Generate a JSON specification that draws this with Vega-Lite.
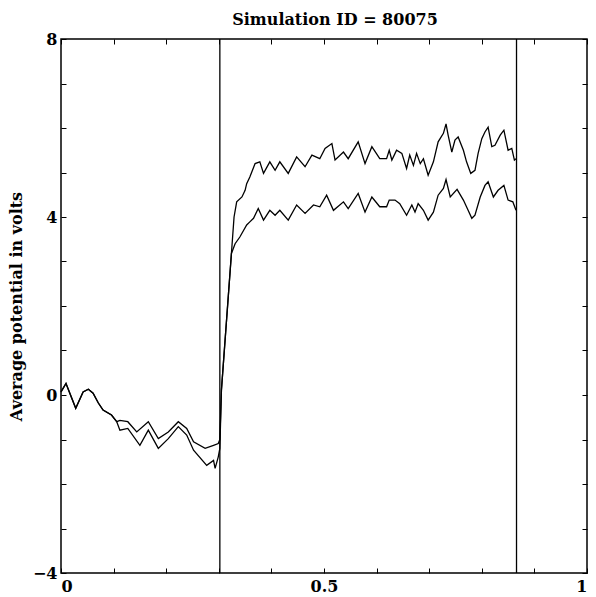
{
  "$schema": "https://vega.github.io/schema/vega-lite/v6.json",
  "width": 526,
  "height": 534,
  "autosize": "none",
  "padding": {"left": 61, "top": 39, "right": 9, "bottom": 24},
  "background": "white",
  "config": {
    "view": {"stroke": "black", "strokeWidth": 1.5},
    "font": "DejaVu Serif",
    "axis": {
      "domain": false,
      "grid": false,
      "tickColor": "black",
      "tickSize": -5,
      "tickWidth": 1,
      "labelColor": "black",
      "labelFont": "DejaVu Serif",
      "labelFontWeight": "bold",
      "labelFontSize": 16,
      "titleColor": "black",
      "titleFont": "DejaVu Serif",
      "titleFontWeight": "bold",
      "titleFontSize": 16
    }
  },
  "title": {
    "text": "Simulation ID = 80075",
    "font": "DejaVu Serif",
    "fontSize": 16,
    "fontWeight": "bold",
    "color": "black",
    "offset": 3,
    "dx": 11
  },
  "datasets": {
    "traces": [
      {"s": "a", "x": 0.000, "v": 0.07}, {"s": "b", "x": 0.000, "v": 0.07},
      {"s": "a", "x": 0.0095, "v": 0.26}, {"s": "b", "x": 0.0095, "v": 0.26},
      {"s": "a", "x": 0.028, "v": -0.30}, {"s": "b", "x": 0.028, "v": -0.30},
      {"s": "a", "x": 0.042, "v": 0.07}, {"s": "b", "x": 0.042, "v": 0.07},
      {"s": "a", "x": 0.052, "v": 0.13}, {"s": "b", "x": 0.052, "v": 0.13},
      {"s": "a", "x": 0.061, "v": 0.04}, {"s": "b", "x": 0.061, "v": 0.04},
      {"s": "a", "x": 0.071, "v": -0.18}, {"s": "b", "x": 0.071, "v": -0.18},
      {"s": "a", "x": 0.080, "v": -0.34}, {"s": "b", "x": 0.080, "v": -0.34},
      {"s": "a", "x": 0.096, "v": -0.45}, {"s": "b", "x": 0.096, "v": -0.45},
      {"s": "a", "x": 0.106, "v": -0.60}, {"s": "b", "x": 0.106, "v": -0.60},

      {"s": "a", "x": 0.112, "v": -0.57},
      {"s": "a", "x": 0.127, "v": -0.60},
      {"s": "a", "x": 0.144, "v": -0.83},
      {"s": "a", "x": 0.166, "v": -0.60},
      {"s": "a", "x": 0.185, "v": -0.98},
      {"s": "a", "x": 0.204, "v": -0.83},
      {"s": "a", "x": 0.223, "v": -0.60},
      {"s": "a", "x": 0.239, "v": -0.75},
      {"s": "a", "x": 0.252, "v": -1.05},
      {"s": "a", "x": 0.274, "v": -1.20},
      {"s": "a", "x": 0.290, "v": -1.13},
      {"s": "a", "x": 0.299, "v": -1.09},
      {"s": "a", "x": 0.302, "v": -1.00},
      {"s": "a", "x": 0.305, "v": 0.11},
      {"s": "a", "x": 0.324, "v": 3.18},
      {"s": "a", "x": 0.329, "v": 4.00},
      {"s": "a", "x": 0.334, "v": 4.34},
      {"s": "a", "x": 0.344, "v": 4.45},
      {"s": "a", "x": 0.350, "v": 4.60},
      {"s": "a", "x": 0.353, "v": 4.75},
      {"s": "a", "x": 0.359, "v": 4.90},
      {"s": "a", "x": 0.369, "v": 5.20},
      {"s": "a", "x": 0.378, "v": 5.24},
      {"s": "a", "x": 0.385, "v": 4.98},
      {"s": "a", "x": 0.397, "v": 5.24},
      {"s": "a", "x": 0.407, "v": 5.05},
      {"s": "a", "x": 0.416, "v": 5.24},
      {"s": "a", "x": 0.432, "v": 4.98},
      {"s": "a", "x": 0.448, "v": 5.35},
      {"s": "a", "x": 0.464, "v": 5.13},
      {"s": "a", "x": 0.477, "v": 5.39},
      {"s": "a", "x": 0.492, "v": 5.31},
      {"s": "a", "x": 0.502, "v": 5.54},
      {"s": "a", "x": 0.515, "v": 5.65},
      {"s": "a", "x": 0.521, "v": 5.28},
      {"s": "a", "x": 0.537, "v": 5.46},
      {"s": "a", "x": 0.546, "v": 5.31},
      {"s": "a", "x": 0.565, "v": 5.69},
      {"s": "a", "x": 0.578, "v": 5.20},
      {"s": "a", "x": 0.591, "v": 5.58},
      {"s": "a", "x": 0.606, "v": 5.31},
      {"s": "a", "x": 0.619, "v": 5.31},
      {"s": "a", "x": 0.624, "v": 5.50},
      {"s": "a", "x": 0.629, "v": 5.28},
      {"s": "a", "x": 0.638, "v": 5.50},
      {"s": "a", "x": 0.648, "v": 5.43},
      {"s": "a", "x": 0.657, "v": 5.09},
      {"s": "a", "x": 0.663, "v": 5.39},
      {"s": "a", "x": 0.670, "v": 5.16},
      {"s": "a", "x": 0.676, "v": 5.43},
      {"s": "a", "x": 0.683, "v": 5.20},
      {"s": "a", "x": 0.689, "v": 5.31},
      {"s": "a", "x": 0.698, "v": 4.94},
      {"s": "a", "x": 0.708, "v": 5.24},
      {"s": "a", "x": 0.717, "v": 5.69},
      {"s": "a", "x": 0.727, "v": 5.88},
      {"s": "a", "x": 0.732, "v": 6.09},
      {"s": "a", "x": 0.736, "v": 5.84},
      {"s": "a", "x": 0.743, "v": 5.46},
      {"s": "a", "x": 0.749, "v": 5.73},
      {"s": "a", "x": 0.755, "v": 5.80},
      {"s": "a", "x": 0.765, "v": 5.50},
      {"s": "a", "x": 0.771, "v": 5.24},
      {"s": "a", "x": 0.779, "v": 4.98},
      {"s": "a", "x": 0.787, "v": 5.05},
      {"s": "a", "x": 0.793, "v": 5.43},
      {"s": "a", "x": 0.800, "v": 5.76},
      {"s": "a", "x": 0.806, "v": 5.91},
      {"s": "a", "x": 0.812, "v": 6.02},
      {"s": "a", "x": 0.819, "v": 5.58},
      {"s": "a", "x": 0.825, "v": 5.61},
      {"s": "a", "x": 0.835, "v": 5.84},
      {"s": "a", "x": 0.842, "v": 5.95},
      {"s": "a", "x": 0.850, "v": 5.50},
      {"s": "a", "x": 0.857, "v": 5.54},
      {"s": "a", "x": 0.862, "v": 5.28},
      {"s": "a", "x": 0.865, "v": 5.31},

      {"s": "b", "x": 0.112, "v": -0.79},
      {"s": "b", "x": 0.127, "v": -0.75},
      {"s": "b", "x": 0.150, "v": -1.13},
      {"s": "b", "x": 0.166, "v": -0.79},
      {"s": "b", "x": 0.185, "v": -1.20},
      {"s": "b", "x": 0.204, "v": -0.98},
      {"s": "b", "x": 0.223, "v": -0.71},
      {"s": "b", "x": 0.239, "v": -0.90},
      {"s": "b", "x": 0.252, "v": -1.24},
      {"s": "b", "x": 0.277, "v": -1.58},
      {"s": "b", "x": 0.290, "v": -1.47},
      {"s": "b", "x": 0.293, "v": -1.65},
      {"s": "b", "x": 0.299, "v": -1.39},
      {"s": "b", "x": 0.302, "v": -1.20},
      {"s": "b", "x": 0.305, "v": 0.11},
      {"s": "b", "x": 0.324, "v": 3.18},
      {"s": "b", "x": 0.331, "v": 3.40},
      {"s": "b", "x": 0.340, "v": 3.55},
      {"s": "b", "x": 0.353, "v": 3.82},
      {"s": "b", "x": 0.359, "v": 3.89},
      {"s": "b", "x": 0.366, "v": 3.97},
      {"s": "b", "x": 0.375, "v": 4.19},
      {"s": "b", "x": 0.385, "v": 3.93},
      {"s": "b", "x": 0.397, "v": 4.15},
      {"s": "b", "x": 0.407, "v": 4.04},
      {"s": "b", "x": 0.416, "v": 4.15},
      {"s": "b", "x": 0.432, "v": 3.93},
      {"s": "b", "x": 0.448, "v": 4.27},
      {"s": "b", "x": 0.464, "v": 4.08},
      {"s": "b", "x": 0.480, "v": 4.27},
      {"s": "b", "x": 0.492, "v": 4.23},
      {"s": "b", "x": 0.505, "v": 4.49},
      {"s": "b", "x": 0.518, "v": 4.15},
      {"s": "b", "x": 0.537, "v": 4.34},
      {"s": "b", "x": 0.546, "v": 4.19},
      {"s": "b", "x": 0.565, "v": 4.53},
      {"s": "b", "x": 0.578, "v": 4.11},
      {"s": "b", "x": 0.591, "v": 4.45},
      {"s": "b", "x": 0.606, "v": 4.23},
      {"s": "b", "x": 0.619, "v": 4.23},
      {"s": "b", "x": 0.624, "v": 4.38},
      {"s": "b", "x": 0.635, "v": 4.38},
      {"s": "b", "x": 0.644, "v": 4.30},
      {"s": "b", "x": 0.657, "v": 4.04},
      {"s": "b", "x": 0.667, "v": 4.27},
      {"s": "b", "x": 0.673, "v": 4.11},
      {"s": "b", "x": 0.679, "v": 4.30},
      {"s": "b", "x": 0.689, "v": 4.15},
      {"s": "b", "x": 0.698, "v": 3.93},
      {"s": "b", "x": 0.708, "v": 4.11},
      {"s": "b", "x": 0.717, "v": 4.49},
      {"s": "b", "x": 0.727, "v": 4.64},
      {"s": "b", "x": 0.732, "v": 4.84},
      {"s": "b", "x": 0.740, "v": 4.45},
      {"s": "b", "x": 0.753, "v": 4.62},
      {"s": "b", "x": 0.765, "v": 4.38},
      {"s": "b", "x": 0.774, "v": 4.15},
      {"s": "b", "x": 0.781, "v": 3.97},
      {"s": "b", "x": 0.787, "v": 4.04},
      {"s": "b", "x": 0.797, "v": 4.45},
      {"s": "b", "x": 0.806, "v": 4.71},
      {"s": "b", "x": 0.812, "v": 4.79},
      {"s": "b", "x": 0.822, "v": 4.45},
      {"s": "b", "x": 0.831, "v": 4.60},
      {"s": "b", "x": 0.842, "v": 4.71},
      {"s": "b", "x": 0.850, "v": 4.38},
      {"s": "b", "x": 0.859, "v": 4.34},
      {"s": "b", "x": 0.865, "v": 4.15}
    ],
    "markers": [{"x": 0.302}, {"x": 0.866}]
  },
  "layer": [
    {
      "data": {"name": "traces"},
      "mark": {"type": "line", "color": "black", "strokeWidth": 1.3},
      "encoding": {
        "x": {
          "field": "x", "type": "quantitative",
          "scale": {"domain": [0, 1], "nice": false, "zero": false},
          "axis": {
            "orient": "bottom", "title": null,
            "values": [0, 0.1, 0.2, 0.3, 0.4, 0.5, 0.6, 0.7, 0.8, 0.9, 1],
            "format": "~g",
            "labelExpr": "datum.value == 0 || datum.value == 0.5 || datum.value == 1 ? datum.label : ''",
            "labelFlush": true,
            "labelPadding": 10
          }
        },
        "y": {
          "field": "v", "type": "quantitative",
          "scale": {"domain": [-4, 8], "nice": false, "zero": false},
          "axis": {
            "orient": "left",
            "title": "Average potential in volts",
            "values": [-4, -3, -2, -1, 0, 1, 2, 3, 4, 5, 6, 7, 8],
            "labelExpr": "datum.value % 4 == 0 ? datum.label : ''",
            "labelFlush": false,
            "labelPadding": 9,
            "titlePadding": 8
          }
        },
        "detail": {"field": "s"}
      }
    },
    {
      "data": {"name": "markers"},
      "mark": {"type": "rule", "color": "black", "strokeWidth": 1.3},
      "encoding": {
        "x": {
          "field": "x", "type": "quantitative",
          "axis": {
            "orient": "top", "title": null, "labels": false,
            "values": [0, 0.1, 0.2, 0.3, 0.4, 0.5, 0.6, 0.7, 0.8, 0.9, 1]
          }
        },
        "y": {
          "datum": -4, "type": "quantitative",
          "axis": {
            "orient": "right", "title": null, "labels": false,
            "values": [-4, -3, -2, -1, 0, 1, 2, 3, 4, 5, 6, 7, 8]
          }
        },
        "y2": {"datum": 8}
      }
    }
  ],
  "resolve": {"axis": {"x": "independent", "y": "independent"}}
}
